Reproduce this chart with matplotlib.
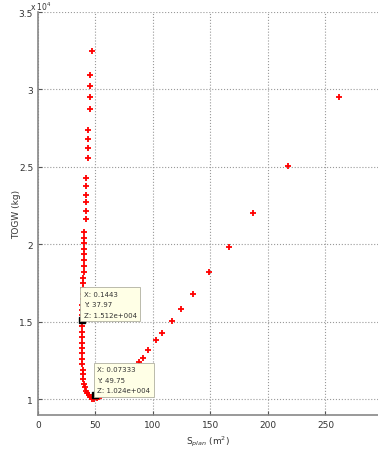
import matplotlib
matplotlib.use("Agg")
import matplotlib.pyplot as plt

plt.rcParams['font.family'] = ['Liberation Sans Narrow', 'DejaVu Sans']

# Pareto front: planform area (m^2) vs TOGW (x 10^4 kg)
s_plan = [47.2, 45.5, 45.5, 45.5, 45.5, 43.8, 43.8, 43.8, 43.8,
          42.0, 42.0, 42.0, 42.0, 42.0, 42.0,
          40.3, 40.3, 40.3, 40.3, 40.3, 40.3, 40.3, 40.3, 39.5,
          39.0, 39.0, 38.8, 38.8, 38.6, 38.6, 38.4, 38.4, 38.3, 38.3,
          38.3, 38.3, 38.3, 38.4, 38.5, 38.6, 38.8, 39.0,
          39.5, 40.2, 41.0, 42.0, 43.0, 44.2, 45.5, 47.0, 48.5,
          51.0, 53.0, 55.0, 58.0, 62.0, 66.0, 70.0, 75.0, 80.0,
          83.8, 87.6, 91.0, 95.9, 102.6, 108.0, 116.5, 124.3, 135.0,
          148.3, 166.0, 187.2, 217.0, 261.4]
togw = [3.247, 3.09, 3.02, 2.95, 2.875, 2.74, 2.68, 2.62, 2.555,
        2.43, 2.376, 2.32, 2.27, 2.215, 2.166,
        2.08, 2.043, 2.01, 1.97, 1.935, 1.90, 1.86, 1.82, 1.785,
        1.75, 1.715, 1.68, 1.645, 1.61, 1.575, 1.54, 1.505, 1.47, 1.435,
        1.40, 1.365, 1.33, 1.295, 1.26, 1.225, 1.19, 1.16,
        1.13, 1.10, 1.075, 1.055, 1.04, 1.025, 1.012, 1.003, 0.998,
        1.008, 1.014, 1.02, 1.03, 1.042, 1.06, 1.09, 1.13, 1.17,
        1.21, 1.237, 1.266, 1.318, 1.38, 1.425, 1.505, 1.585, 1.68,
        1.818, 1.985, 2.2, 2.503, 2.953]

tips = [(37.97, 1.512, "X: 0.1443\nY: 37.97\nZ: 1.512e+004"),
        (49.75, 1.024, "X: 0.07333\nY: 49.75\nZ: 1.024e+004")]

xticks = [0, 50, 100, 150, 200, 250]
yticks = [1, 1.5, 2, 2.5, 3, 3.5]

fig = plt.figure(figsize=(3.78, 4.52), dpi=100)
ax = fig.add_axes([0.1005, 0.0796, 0.8995, 0.8916])

ax.plot(s_plan, togw, '+', color='red', markersize=5, markeredgewidth=1.3, zorder=3)

for x, y, label in tips:
    ax.plot(x, y, 's', color='black', markersize=4, zorder=5)
    ax.annotate(label, xy=(x, y), xytext=(1.5, 1.5), textcoords='offset points',
                ha='left', va='bottom', fontsize=5, color='#333333', linespacing=1.9,
                bbox=dict(boxstyle='square,pad=0.5', fc='#ffffe6', ec='#b0b0a0', lw=0.6),
                zorder=6)

ax.set_xlim(0, 295.7)
ax.set_ylim(0.897, 3.5)
ax.set_xticks(xticks)
ax.set_xticklabels([str(t) for t in xticks])
ax.set_yticks(yticks)
ax.set_yticklabels(['1', '1.5', '2', '2.5', '3', '3.5'])
ax.grid(True, linestyle=':', color='#999999', linewidth=0.8)
ax.set_axisbelow(True)
ax.tick_params(direction='in', length=3, labelsize=6.5, colors='#555555', labelcolor='#333333')
for side in ['top', 'right']:
    ax.spines[side].set_visible(False)
for side in ['left', 'bottom']:
    ax.spines[side].set_color('#888888')
    ax.spines[side].set_linewidth(1.2)

ax.set_xlabel('S$_{plan}$ (m$^2$)', fontsize=6.5, color='#333333', labelpad=3)
ax.set_ylabel('TOGW (kg)', fontsize=6.5, color='#333333')
ax.yaxis.set_label_coords(-0.05, 0.5)
fig.text(0.08, 0.985, 'x 10$^4$', fontsize=5.5, color='#333333', va='center')

fig.savefig('out.png', dpi=100)
